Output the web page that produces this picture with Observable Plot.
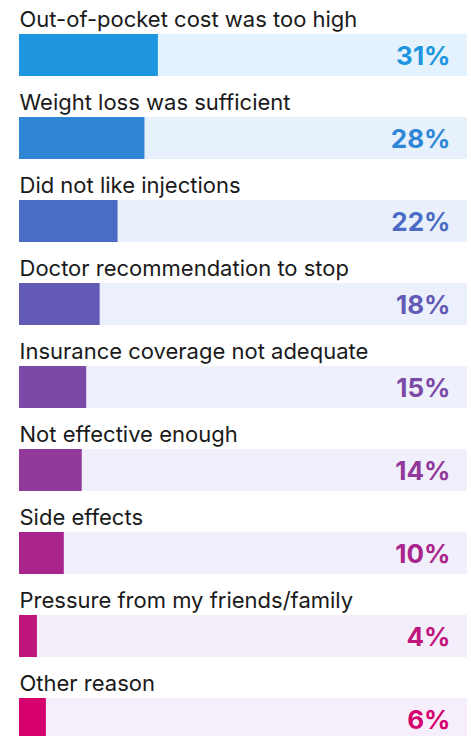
<!DOCTYPE html>
<html>
<head>
<meta charset="utf-8">
<script src="https://cdn.jsdelivr.net/npm/d3@7"></script>
<script src="https://cdn.jsdelivr.net/npm/@observablehq/plot@0.6"></script>
<style>
  html, body { margin: 0; padding: 0; background: #fff; overflow: hidden; }
  #chart svg { display: block; }
</style>
</head>
<body>
<div id="chart"></div>
<script>
const reasons = [
  "Out-of-pocket cost was too high",
  "Weight loss was sufficient",
  "Did not like injections",
  "Doctor recommendation to stop",
  "Insurance coverage not adequate",
  "Not effective enough",
  "Side effects",
  "Pressure from my friends/family",
  "Other reason"
];
const percents = [31, 28, 22, 18, 15, 14, 10, 4, 6];
const barColors = ["#1d96df", "#2e86d5", "#4a6cc4", "#625ab5", "#7b4aa6", "#913a9a", "#a9248c", "#c0167c", "#d5006e"];
const trackColors = ["#e4f2fd", "#e6f1fc", "#e9f0fc", "#ecf0fc", "#eef0fc", "#f0effb", "#f1effb", "#f4eefa", "#f6eefa"];

const data = reasons.map((r, i) => ({
  reason: r, value: percents[i], color: barColors[i], track: trackColors[i]
}));

const chart = Plot.plot({
  width: 471,
  height: 736,
  margin: 0,
  style: { fontFamily: "Inter, sans-serif", background: "#fff", overflow: "hidden" },
  x: { domain: [0, 100], range: [19, 467], axis: null },
  y: { domain: reasons, range: [34, 740], paddingInner: 41 / 83, paddingOuter: 0, align: 0, axis: null },
  color: { type: "identity" },
  marks: [
    Plot.barX(data, { x1: 0, x2: 100, y: "reason", fill: "track" }),
    Plot.barX(data, { x1: 0, x2: "value", y: "reason", fill: "color" }),
    Plot.text(data, {
      x: 0, y: "reason", text: "reason", textAnchor: "start", lineAnchor: "bottom",
      dy: -29, fontSize: 22, fill: "#1a1a1a"
    }),
    Plot.text(data, {
      x: 100, y: "reason", text: d => d.value + "%", textAnchor: "end", dx: -17, dy: 1,
      fontSize: 26, fontWeight: 700, fill: "color"
    })
  ]
});
document.getElementById("chart").appendChild(chart);
</script>
</body>
</html>
